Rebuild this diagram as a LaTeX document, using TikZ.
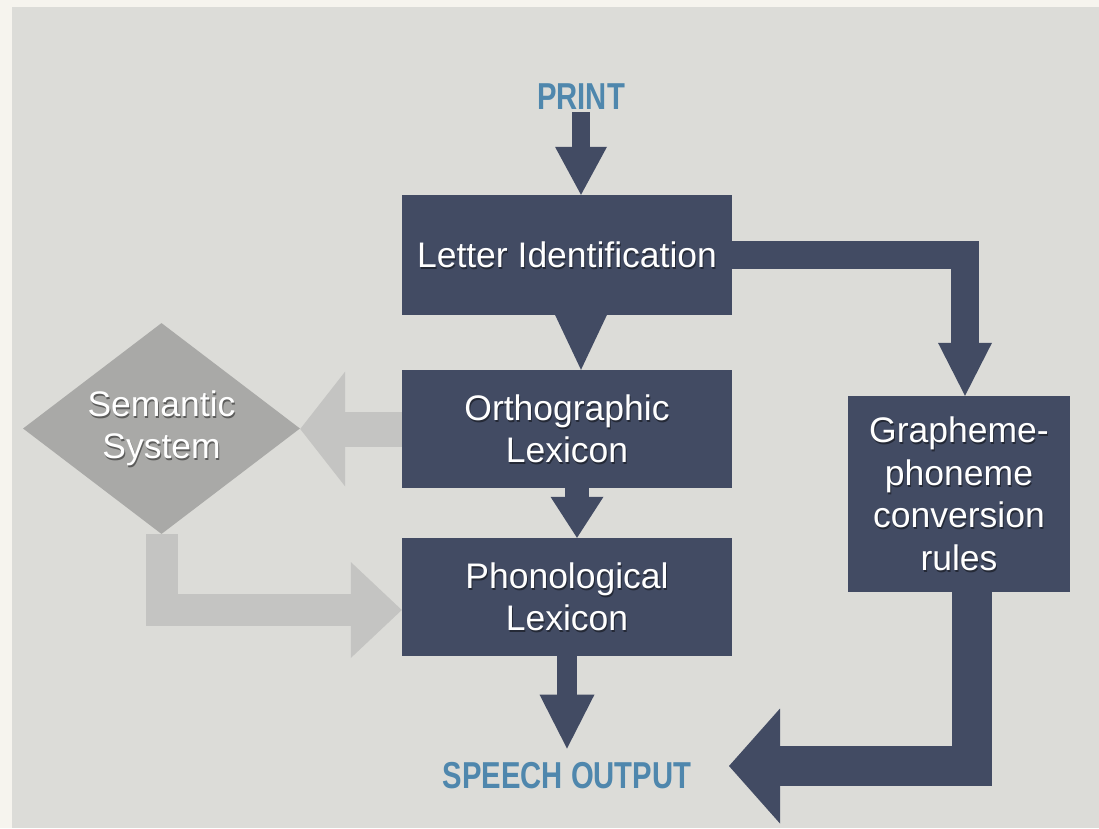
\documentclass[tikz,border=0pt]{standalone}
\usepackage{fontspec}
\setmainfont{Liberation Sans}
\newfontfamily\labelfont[FakeStretch=0.78]{Liberation Sans}
\usetikzlibrary{shapes.geometric,arrows.meta}
\definecolor{slate}{HTML}{424B63}
\definecolor{printblue}{HTML}{4F87AD}
\definecolor{paper}{HTML}{DCDCD8}
\definecolor{frame}{HTML}{F6F4EE}
\definecolor{semgray}{HTML}{A9A9A7}
\definecolor{lightgray}{HTML}{C4C4C2}

\begin{document}
\begin{tikzpicture}
[x=1pt,y=-1pt,
  shadowDecorate/.style={text=black,text opacity=0.45,align=center,inner sep=0pt,%
    font=\fontsize{35.5}{42.5}\selectfont},%
  boxDecorate/.style={shape=rectangle,fill=slate,text=white,align=center,inner sep=0pt,%
    font=\fontsize{35.5}{42.5}\selectfont,%
    path picture={\node[shadowDecorate] at ([xshift=1pt,yshift=-2pt]path picture bounding box.center) {#1};}},%
  semDecorate/.style={shape=diamond,fill=semgray,text=white,align=center,inner sep=0pt,%
    aspect=1.3,minimum width=277pt,minimum height=211pt,font=\fontsize{35.5}{42.5}\selectfont,%
    path picture={\node[shadowDecorate] at ([xshift=1pt,yshift=-2pt]path picture bounding box.center) {#1};}},%
  labelDecorate/.style={text=printblue,inner sep=2pt,%
    font=\labelfont\bfseries\fontsize{37.5}{45}\selectfont},%
  darkArrow/.style n args={3}{draw=slate,line width=#1pt,line join=miter,%
    -{Triangle[width=#2pt,length=#3pt,line width=0pt]}},%
  lightArrow/.style n args={3}{draw=lightgray,line width=#1pt,line join=miter,%
    -{Triangle[width=#2pt,length=#3pt,line width=0pt]}}]
%%
%% background
\useasboundingbox (0,0) rectangle (1099,828);
\fill[frame] (0,0) rectangle (1099,828);
\fill[paper] (12,7) rectangle (1099,828);
%%
%% boxes
\foreach \nodename/\x/\y/\boxw/\boxh/\txt in {
  letter/567/255/330/120/Letter Identification,
  ortho/567/429/330/118/Orthographic\\Lexicon,
  phono/567/597/330/118/Phonological\\Lexicon,
  graph/959/494/222/196/Grapheme-\\phoneme\\conversion\\rules}
{
  \node (\nodename) at (\x,\y) [boxDecorate=\txt,minimum width=\boxw pt,minimum height=\boxh pt] {\txt};
}
\node (sem) at (161.5,428.5) [semDecorate={Semantic\\System}] {Semantic\\System};
%% input and output
\node (print) at (581,97) [labelDecorate] {PRINT};
\node (speech) at (567,776) [labelDecorate] {SPEECH OUTPUT};
\coordinate (outtip) at (729,766);
%%
%% main route
\draw[darkArrow={18}{52}{48}] (print.south) -- ([xshift=14pt]letter.north);
\draw[darkArrow={22}{52}{55}] ([xshift=14pt]letter.south) -- ([xshift=14pt]ortho.north);
\draw[darkArrow={24}{53}{41}] ([xshift=10pt]ortho.south) -- ([xshift=10pt]phono.north);
\draw[darkArrow={20}{55}{54}] (phono.south) -- ([yshift=12pt]speech.north);
%% sublexical route
\draw[darkArrow={28}{54}{53}] (letter.east) -| ([xshift=6pt]graph.north);
\draw[darkArrow={40}{115}{51}] ([xshift=12.5pt]graph.south) |- (outtip);
%% semantic route
\draw[lightArrow={35}{115}{45}] (ortho.west) -- (ortho.west -| sem.east);
\draw[lightArrow={32}{96}{51}] (sem.south) |- ([yshift=-13pt]phono.west);
\end{tikzpicture}
\end{document}
